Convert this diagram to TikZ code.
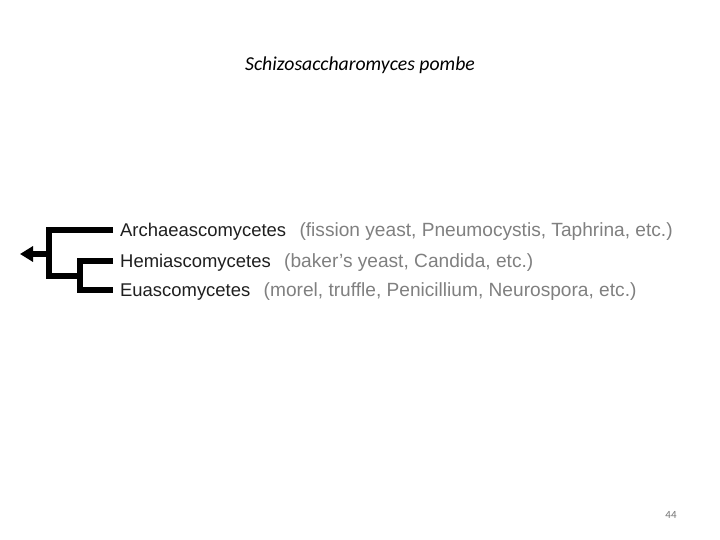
\documentclass[tikz,border=0pt]{standalone}
\usepackage{fontspec}
\setmainfont{Liberation Sans}
\newfontfamily\titlefont{Carlito}
\usepackage{xcolor}
\colorlet{colorClade}{black!88}
\colorlet{colorNote}{black!50}
\colorlet{colorPage}{black!55}
\usetikzlibrary{arrows.meta, positioning}

\begin{document}
\begin{tikzpicture}[x=1bp, y=-1bp, >={Triangle[length=13bp, width=15bp]},
  branch/.style={line width=5.5bp, line join=miter},
  clade/.style={inner sep=0pt, anchor=west, text height=13bp, text depth=0pt, font=\fontsize{18.5}{20}\selectfont, text=colorClade},
  note/.style={inner sep=0pt, text height=13bp, text depth=0pt, font=\fontsize{19.2}{20}\selectfont, text=colorNote}]
\useasboundingbox[fill=white] (0,0) rectangle (720,540);
\node[anchor=base, font=\titlefont\itshape\fontsize{19.8}{22}\selectfont] (title) at (360,71) {Schizosaccharomyces pombe};
\coordinate (root) at (49,254);
\coordinate (tip) at (20,254);
\coordinate (tl) at (49,230);
\coordinate (bl) at (49,276);
\coordinate (it) at (80,261);
\coordinate (im) at (80,276);
\coordinate (ib) at (80,290);
\coordinate (tipA) at (113,230);
\coordinate (tipH) at (113,261);
\coordinate (tipE) at (113,290);
\node[clade, right=7bp of tipA] (arch) {Archaeascomycetes};
\node[clade, right=7bp of tipH] (hemi) {Hemiascomycetes};
\node[clade, right=7bp of tipE] (euas) {Euascomycetes};
\node[note, right=13bp of arch] (archNote) {(fission yeast, Pneumocystis, Taphrina, etc.)};
\node[note, right=13bp of hemi] (hemiNote) {(baker's yeast, Candida, etc.)};
\node[note, right=13bp of euas] (euasNote) {(morel, truffle, Penicillium, Neurospora, etc.)};
\draw[branch] (tipA) -- (tl) -- (bl) -- (im);
\draw[branch] (tipH) -- (it) -- (ib) -- (tipE);
\draw[branch, ->] (root) -- (tip);
\node[font=\titlefont\fontsize{11}{12}\selectfont, text=colorPage] (page) at (671,515) {44};
\end{tikzpicture}
\end{document}
